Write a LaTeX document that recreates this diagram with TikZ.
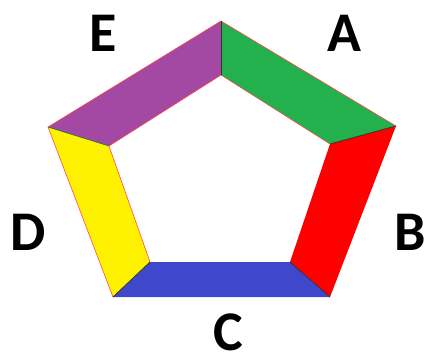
\documentclass[tikz,border=0pt]{standalone}
\usepackage{fontspec}
\setmainfont{Carlito}
\definecolor{pgreen}{RGB}{34,177,76}
\definecolor{pred}{RGB}{255,0,0}
\definecolor{pblue}{RGB}{63,72,204}
\definecolor{pyellow}{RGB}{255,242,0}
\definecolor{ppurple}{RGB}{163,73,164}
\tikzset{
  seg/.style={draw=red!70, line width=0.6pt, line join=round},
  divider/.style={draw=black!80, line width=0.8pt},
  lbl/.style={font=\fontsize{56}{56}\selectfont\bfseries, text=black, inner sep=0pt}
}
\begin{document}
\begin{tikzpicture}[x=1pt,y=-1pt]
\useasboundingbox (0,0) rectangle (428,357);
% outer vertices
\coordinate (O1) at (221,21);
\coordinate (O2) at (396,126);
\coordinate (O3) at (330,297);
\coordinate (O4) at (113,297);
\coordinate (O5) at (48,127);
% inner vertices
\coordinate (I1) at (221,75);
\coordinate (I2) at (330,144);
\coordinate (I3) at (290,262);
\coordinate (I4) at (150,262);
\coordinate (I5) at (109,146);
% segments
\fill[pgreen] (O1) -- (O2) -- (I2) -- (I1) -- cycle;
\fill[pred] (O2) -- (O3) -- (I3) -- (I2) -- cycle;
\fill[pblue] (O3) -- (O4) -- (I4) -- (I3) -- cycle;
\fill[pyellow] (O4) -- (O5) -- (I5) -- (I4) -- cycle;
\fill[ppurple] (O5) -- (O1) -- (I1) -- (I5) -- cycle;
% outlines
\draw[seg] (O1) -- (O2);
\draw[seg] (I1) -- (I2);
\draw[seg] (O5) -- (O1);
\draw[seg] (I5) -- (I1);
\draw[seg] (O4) -- (O5);
\draw[seg] (I4) -- (I5);
% dividers
\draw[divider] (O1) -- (I1);
\draw[divider] (O2) -- (I2);
\draw[divider] (O3) -- (I3);
\draw[divider] (O4) -- (I4);
\draw[draw=pgreen!70!black, line width=0.6pt] (O5) -- (I5);
% labels
\node[lbl] (A) at (344,33) {A};
\node[lbl] (B) at (410,232) {B};
\node[lbl] (C) at (228,332) {C};
\node[lbl] (D) at (28,232) {D};
\node[lbl] (E) at (103,33) {E};
\end{tikzpicture}
\end{document}
